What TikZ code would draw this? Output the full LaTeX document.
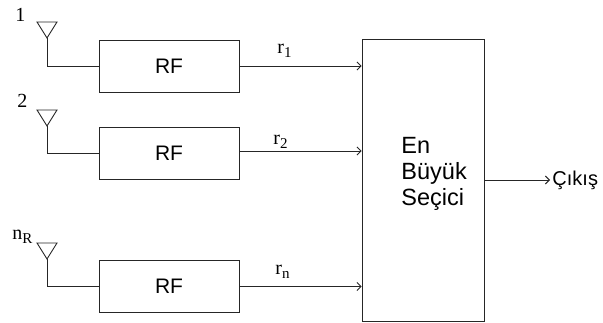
\documentclass[tikz,border=0pt]{standalone}
\usepackage{fontspec}
\setmainfont{Liberation Sans}
\newfontfamily\lblfont{Liberation Serif}
\usetikzlibrary{arrows.meta}
\newcommand{\lowsub}[1]{\raisebox{-3.5pt}{\fontsize{15}{15}\selectfont #1}}
\begin{document}
\begin{tikzpicture}[x=1pt,y=-1pt,line width=0.9pt,
  wire/.style={draw=black!85},
  rfbox/.style={draw=black!85,minimum width=140pt,minimum height=52pt,inner sep=0pt,font=\fontsize{21}{25}\selectfont},
  bigbox/.style={draw=black!85,minimum width=122pt,minimum height=282pt,inner sep=0pt},
  lbl/.style={inner sep=0pt,anchor=base west,font=\lblfont\fontsize{20}{22}\selectfont},
  arr/.style={wire,-{Straight Barb[length=4pt,width=8pt,line width=0.9pt]}},
  antenna/.style={draw=black!85,line join=miter}]
\useasboundingbox (0,0) rectangle (603,323);
% RF boxes
\node[rfbox] (rf1) at (169,66) {RF};
\node[rfbox] (rf2) at (169,153) {RF};
\node[rfbox] (rf3) at (169,286.5) {RF};
% selector
\node[bigbox] (big) at (423,180) {};
\node[inner sep=0pt,anchor=west,align=left,font=\fontsize{23.5}{26}\selectfont] (bigtxt) at (401,174) {En\\Büyük\\Seçici};
% antennas
\coordinate (a1) at (47,38);
\coordinate (a2) at (47,126);
\coordinate (a3) at (47,259);
\foreach \a in {a1,a2,a3}{
  \draw[antenna] (\a) -- ++(-10,-16) -- ++(20,0) -- cycle;
}
\draw[wire] (a1) |- (rf1.west);
\draw[wire] (a2) |- (rf2.west);
\draw[wire] (a3) |- (rf3.west);
\node[lbl] (l1) at (15,22) {1};
\node[lbl] (l2) at (17,108) {2};
\node[lbl] (l3) at (12,240) {n\lowsub{R}};
% connections
\draw[arr] (rf1.east) -- (rf1.east -| big.west);
\draw[arr] ([yshift=2pt]rf2.east) -- ([yshift=2pt]rf2.east -| big.west);
\draw[arr] (rf3.east) -- (rf3.east -| big.west);
\node[lbl] (r1) at (277,54) {r\lowsub{1}};
\node[lbl] (r2) at (273,145) {r\lowsub{2}};
\node[lbl] (rn) at (275,275) {r\lowsub{n}};
% output
\coordinate (out) at (550,180);
\draw[arr] (big.east) -- (out);
\node[anchor=west,inner sep=2pt,font=\fontsize{20}{24}\selectfont] (outlbl) at (out) {Çıkış};
\end{tikzpicture}
\end{document}
